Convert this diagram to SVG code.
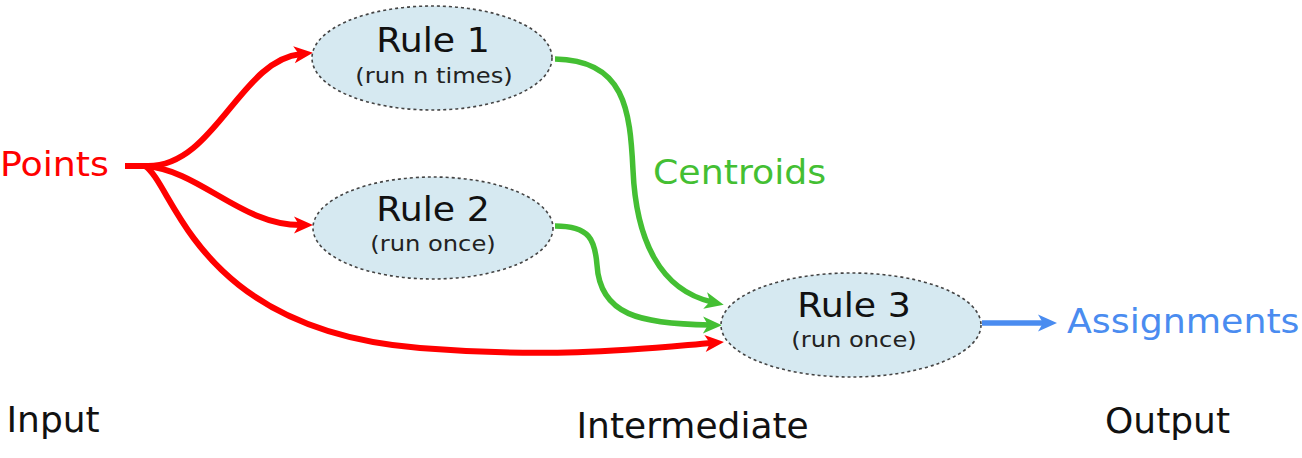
<svg xmlns="http://www.w3.org/2000/svg" width="1302" height="458" viewBox="0 0 1302 458">
  <style>
    .rule { fill: #d6e9f1; stroke: #444; stroke-width: 1.6; stroke-dasharray: 3 3; }
    .title { font-family: "DejaVu Sans", sans-serif; font-size: 33px; fill: #111; text-anchor: middle; }
    .sub { font-family: "DejaVu Sans", sans-serif; font-size: 22px; fill: #222; text-anchor: middle; }
    .label { font-family: "DejaVu Sans", sans-serif; font-size: 33px; }
    .stage { font-family: "DejaVu Sans", sans-serif; font-size: 36px; fill: #111; }
    .wire { fill: none; stroke-linecap: butt; stroke-linejoin: round; }
    .red { stroke: #ff0000; stroke-width: 6; marker-end: url(#headRed); }
    .green { stroke: #44bf33; stroke-width: 5.5; marker-end: url(#headGreen); }
    .blue { stroke: #4a8cf0; stroke-width: 5.5; marker-end: url(#headBlue); }
  </style>
  <defs>
    <marker id="headRed" markerUnits="userSpaceOnUse" markerWidth="40" markerHeight="40" viewBox="-20 -20 40 40" refX="0" refY="0" orient="auto">
      <path d="M12,0 L-7,-8.5 L-2,0 L-7,8.5 Z" fill="#ff0000"/>
    </marker>
    <marker id="headGreen" markerUnits="userSpaceOnUse" markerWidth="40" markerHeight="40" viewBox="-20 -20 40 40" refX="0" refY="0" orient="auto">
      <path d="M12,0 L-7,-8.5 L-2,0 L-7,8.5 Z" fill="#44bf33"/>
    </marker>
    <marker id="headBlue" markerUnits="userSpaceOnUse" markerWidth="40" markerHeight="40" viewBox="-20 -20 40 40" refX="0" refY="0" orient="auto">
      <path d="M12,0 L-7,-8.5 L-2,0 L-7,8.5 Z" fill="#4a8cf0"/>
    </marker>
  </defs>

  <rect width="1302" height="458" fill="#ffffff"/>

  <!-- connectors -->
  <g id="connectors" class="wire">
    <path class="red" d="M125,166 L148,166 C 215,166 240,60 301,54"/>
    <path class="red" d="M145,166 C 200,170 240,225 301,225"/>
    <path class="red" d="M145,166 C 175,185 195,330 420,348 C 560,359.2 650,348 712,343"/>
    <path class="green" d="M555,59 C 625,60 630,110 633,170 C 636,240 660,290 712,302"/>
    <path class="green" d="M555,226 C 590,226 595,240 597,265 C 600,315 640,324 710,325"/>
    <path class="blue" d="M982,323 L1045,323"/>
  </g>

  <!-- rule nodes -->
  <g id="rule1">
    <ellipse class="rule" cx="432" cy="58" rx="120" ry="52"/>
    <text class="title" transform="translate(433,52) scale(1.1,1)">Rule 1</text>
    <text class="sub" transform="translate(434,83) scale(1.1,1)">(run n times)</text>
  </g>
  <g id="rule2">
    <ellipse class="rule" cx="433" cy="228" rx="120" ry="51"/>
    <text class="title" transform="translate(433,221) scale(1.1,1)">Rule 2</text>
    <text class="sub" transform="translate(433,251) scale(1.1,1)">(run once)</text>
  </g>
  <g id="rule3">
    <ellipse class="rule" cx="851" cy="325" rx="130" ry="52"/>
    <text class="title" transform="translate(854,317) scale(1.1,1)">Rule 3</text>
    <text class="sub" transform="translate(854,347) scale(1.1,1)">(run once)</text>
  </g>

  <!-- data labels -->
  <g id="points">
    <text class="label" fill="#ff0000" transform="translate(0,176) scale(1.1,1)">Points</text>
  </g>
  <g id="centroids">
    <text class="label" fill="#44bf33" transform="translate(653,184) scale(1.1,1)">Centroids</text>
  </g>
  <g id="assignments">
    <text class="label" fill="#4a8cf0" transform="translate(1067,333) scale(1.1,1)">Assignments</text>
  </g>

  <!-- stage captions -->
  <g id="stages">
    <text class="stage" x="6.5" y="432">Input</text>
    <text class="stage" x="576.5" y="438">Intermediate</text>
    <text class="stage" x="1105" y="433">Output</text>
  </g>
</svg>
